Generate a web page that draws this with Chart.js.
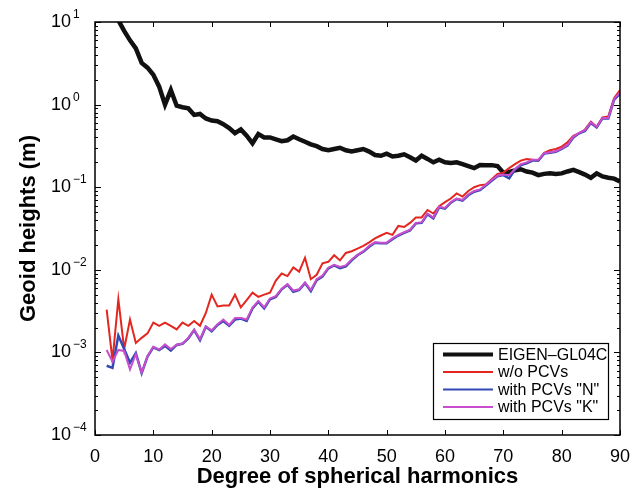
<!DOCTYPE html>
<html>
<head>
<meta charset="utf-8">
<script src="https://cdn.jsdelivr.net/npm/chart.js@4.4.0/dist/chart.umd.min.js"></script>
<style>
  html, body { margin: 0; padding: 0; background: #fff; }
  #wrap { width: 641px; height: 490px; }
</style>
</head>
<body>
<div id="wrap"><canvas id="myChart" width="641" height="490"></canvas></div>
<script>
// spherical harmonic degree (x)
const degrees = [2,3,4,5,6,7,8,9,10,11,12,13,14,15,16,17,18,19,20,21,22,23,24,25,26,27,28,29,30,
  31,32,33,34,35,36,37,38,39,40,41,42,43,44,45,46,47,48,49,50,51,52,53,54,55,56,57,58,59,60,
  61,62,63,64,65,66,67,68,69,70,71,72,73,74,75,76,77,78,79,80,81,82,83,84,85,86,87,88,89,90];

// geoid heights per degree (m)
const eigen = [25,15,10.5,7.8,6.0,4.8,3.2,2.8,2.3,1.65,1.0,1.5,0.97,0.93,0.9,0.75,0.77,0.68,0.64,0.63,
  0.58,0.52,0.45,0.50,0.42,0.34,0.44,0.40,0.40,0.38,0.36,0.37,0.41,0.38,0.355,0.33,0.314,0.29,0.28,0.29,
  0.30,0.28,0.27,0.28,0.29,0.27,0.245,0.24,0.255,0.235,0.24,0.25,0.23,0.21,0.24,0.22,0.20,0.215,0.20,0.197,
  0.2,0.19,0.18,0.17,0.186,0.185,0.185,0.18,0.15,0.153,0.16,0.165,0.155,0.15,0.14,0.145,0.147,0.145,0.147,0.155,
  0.162,0.152,0.142,0.13,0.147,0.135,0.13,0.127,0.117];

const woPCV = [0.0033,0.0008,0.0044,0.0011,0.0025,0.0013,0.0015,0.0017,0.0023,0.0021,0.0023,0.0021,0.0019,0.0023,0.0021,0.0024,0.0021,0.003,0.005,0.0036,
  0.0037,0.0037,0.005,0.0035,0.0043,0.0053,0.0047,0.005,0.0053,0.0074,0.009,0.0084,0.0107,0.0095,0.014,0.0077,0.0087,0.012,0.0125,0.015,
  0.013,0.016,0.0168,0.018,0.0195,0.0215,0.024,0.026,0.028,0.0265,0.034,0.033,0.037,0.043,0.043,0.053,0.048,0.059,0.066,0.073,
  0.084,0.077,0.09,0.1,0.106,0.108,0.125,0.145,0.15,0.17,0.19,0.21,0.22,0.215,0.21,0.26,0.28,0.29,0.31,0.35,
  0.42,0.45,0.5,0.62,0.54,0.7,0.72,1.2,1.5];

const pcvN = [0.00069,0.00065,0.0016,0.0011,0.00075,0.00098,0.00056,0.00089,0.00115,0.00107,0.0012,0.00105,0.00123,0.00127,0.00148,0.00186,0.0014,0.00204,0.0018,0.00215,
  0.0024,0.0021,0.0025,0.00257,0.0024,0.0034,0.0041,0.0034,0.0044,0.0047,0.0058,0.0066,0.0054,0.0057,0.0069,0.0055,0.0075,0.0083,0.0104,0.0113,
  0.0105,0.011,0.013,0.015,0.0165,0.019,0.0213,0.021,0.021,0.0235,0.026,0.028,0.03,0.0365,0.037,0.047,0.042,0.057,0.055,0.065,
  0.072,0.069,0.08,0.088,0.092,0.105,0.12,0.136,0.14,0.128,0.164,0.185,0.195,0.21,0.21,0.255,0.262,0.268,0.29,0.32,
  0.4,0.45,0.48,0.6,0.53,0.68,0.68,1.15,1.35];

const pcvK = [0.00107,0.00077,0.00107,0.00104,0.00062,0.00095,0.00057,0.0009,0.00117,0.00108,0.00125,0.0011,0.00124,0.00128,0.0015,0.00188,0.00145,0.00206,0.00185,0.0022,
  0.0025,0.00215,0.0026,0.0026,0.0025,0.0035,0.0042,0.0035,0.0045,0.0048,0.0059,0.0067,0.0056,0.0058,0.007,0.0057,0.0077,0.0085,0.0106,0.0115,
  0.0108,0.0113,0.0133,0.0152,0.0168,0.0195,0.0215,0.0213,0.0213,0.024,0.0265,0.0285,0.0305,0.037,0.0375,0.048,0.043,0.058,0.056,0.066,
  0.073,0.07,0.082,0.09,0.094,0.107,0.122,0.138,0.142,0.14,0.166,0.19,0.2,0.215,0.215,0.258,0.265,0.272,0.295,0.325,
  0.41,0.455,0.49,0.61,0.54,0.69,0.69,1.18,1.4];

const seriesNames = ['EIGEN\u2013GL04C', 'w/o PCVs', 'with PCVs "N"', 'with PCVs "K"'];
const seriesColors = ['#111111', 'rgb(228,38,32)', 'rgb(50,72,180)', 'rgb(200,78,205)'];
const seriesWidths = [4.5, 2, 2.5, 2];

const xTicks = [0,10,20,30,40,50,60,70,80,90];
const yExponents = [-4,-3,-2,-1,0,1];

const FONT = "'Liberation Sans', Arial, Helvetica, sans-serif";
Chart.defaults.font.family = FONT;
Chart.defaults.color = '#000';

function pts(ys) {
    return degrees.map((d, i) => ({ x: d, y: ys[i] }));
}

const allSeries = [eigen, woPCV, pcvN, pcvK];

// box, inward ticks, y labels with exponents, legend
const matlabAxes = {
    id: 'matlabAxes',
    afterDatasetsDraw(chart) {
        const ctx = chart.ctx;
        const a = chart.chartArea;
        const xs = chart.scales.x;
        const ys = chart.scales.y;
        ctx.save();
        ctx.strokeStyle = '#000';
        ctx.lineWidth = 1;

        // x ticks
        ctx.beginPath();
        for (const t of xTicks) {
            const px = Math.round(xs.getPixelForValue(t)) + 0.5;
            ctx.moveTo(px, a.bottom); ctx.lineTo(px, a.bottom - 5);
            ctx.moveTo(px, a.top); ctx.lineTo(px, a.top + 5);
        }
        // y ticks, major + minor
        for (const e of yExponents) {
            const py = Math.round(ys.getPixelForValue(Math.pow(10, e))) + 0.5;
            ctx.moveTo(a.left, py); ctx.lineTo(a.left + 6, py);
            ctx.moveTo(a.right, py); ctx.lineTo(a.right - 6, py);
            if (e < 1) {
                for (let m = 2; m <= 9; m++) {
                    const my = Math.round(ys.getPixelForValue(m * Math.pow(10, e))) + 0.5;
                    ctx.moveTo(a.left, my); ctx.lineTo(a.left + 3, my);
                    ctx.moveTo(a.right, my); ctx.lineTo(a.right - 3, my);
                }
            }
        }
        ctx.stroke();

        ctx.lineWidth = 1.5;
        ctx.strokeRect(a.left, a.top, a.right - a.left, a.bottom - a.top);

        // y tick labels 10^e
        ctx.fillStyle = '#000';
        for (const e of yExponents) {
            const py = ys.getPixelForValue(Math.pow(10, e));
            ctx.font = '18px ' + FONT;
            ctx.textAlign = 'right';
            ctx.textBaseline = 'middle';
            ctx.fillText('10', 71, py);
            ctx.font = '12px ' + FONT;
            ctx.textAlign = 'left';
            ctx.textBaseline = 'alphabetic';
            ctx.fillText(String(e).replace('-', '\u2212'), 73, py - 4);
        }

        // legend
        const lx = 433, ly = 343, lw = 175, lh = 76;
        ctx.fillStyle = '#fff';
        ctx.fillRect(lx, ly, lw, lh);
        ctx.lineWidth = 1.2;
        ctx.strokeRect(lx + 0.5, ly + 0.5, lw, lh);
        ctx.font = '16px ' + FONT;
        ctx.textAlign = 'left';
        ctx.textBaseline = 'middle';
        seriesNames.forEach((name, i) => {
            const ry = ly + 11.5 + i * 17.5;
            ctx.strokeStyle = seriesColors[i];
            ctx.lineWidth = i === 0 ? 4 : 2;
            ctx.beginPath();
            ctx.moveTo(443, ry); ctx.lineTo(493, ry);
            ctx.stroke();
            ctx.fillStyle = '#000';
            ctx.fillText(name, 498, ry + 1);
        });
        ctx.restore();
    }
};

new Chart("myChart", {
    type: "line",
    data: {
        datasets: allSeries.map((ys, i) => ({
            label: seriesNames[i],
            data: pts(ys),
            borderColor: seriesColors[i],
            backgroundColor: seriesColors[i],
            borderWidth: seriesWidths[i],
            pointRadius: 0,
            tension: 0,
            clip: 0,
            order: 3 - i
        }))
    },
    options: {
        responsive: false,
        animation: false,
        devicePixelRatio: 1,
        layout: { padding: { top: 22, right: 21, left: 0, bottom: 0 } },
        plugins: {
            legend: { display: false },
            tooltip: { enabled: false }
        },
        scales: {
            x: {
                type: 'linear',
                min: 0,
                max: 90,
                grid: { display: false },
                border: { display: false },
                ticks: {
                    stepSize: 10,
                    padding: 3,
                    maxRotation: 0,
                    font: { size: 18 },
                    color: '#000'
                },
                title: {
                    display: true,
                    text: 'Degree of spherical harmonics',
                    font: { size: 22, weight: 'bold' },
                    padding: { top: 0, bottom: 0 },
                    color: '#000'
                },
                afterFit(scale) { scale.height = 55; }
            },
            y: {
                type: 'logarithmic',
                min: 1e-4,
                max: 10,
                grid: { display: false },
                border: { display: false },
                ticks: { display: false },
                title: {
                    display: true,
                    text: 'Geoid heights (m)',
                    font: { size: 22, weight: 'bold' },
                    padding: { top: 16, bottom: 0 },
                    color: '#000'
                },
                afterFit(scale) { scale.width = 95; }
            }
        }
    },
    plugins: [matlabAxes]
});
</script>
</body>
</html>
